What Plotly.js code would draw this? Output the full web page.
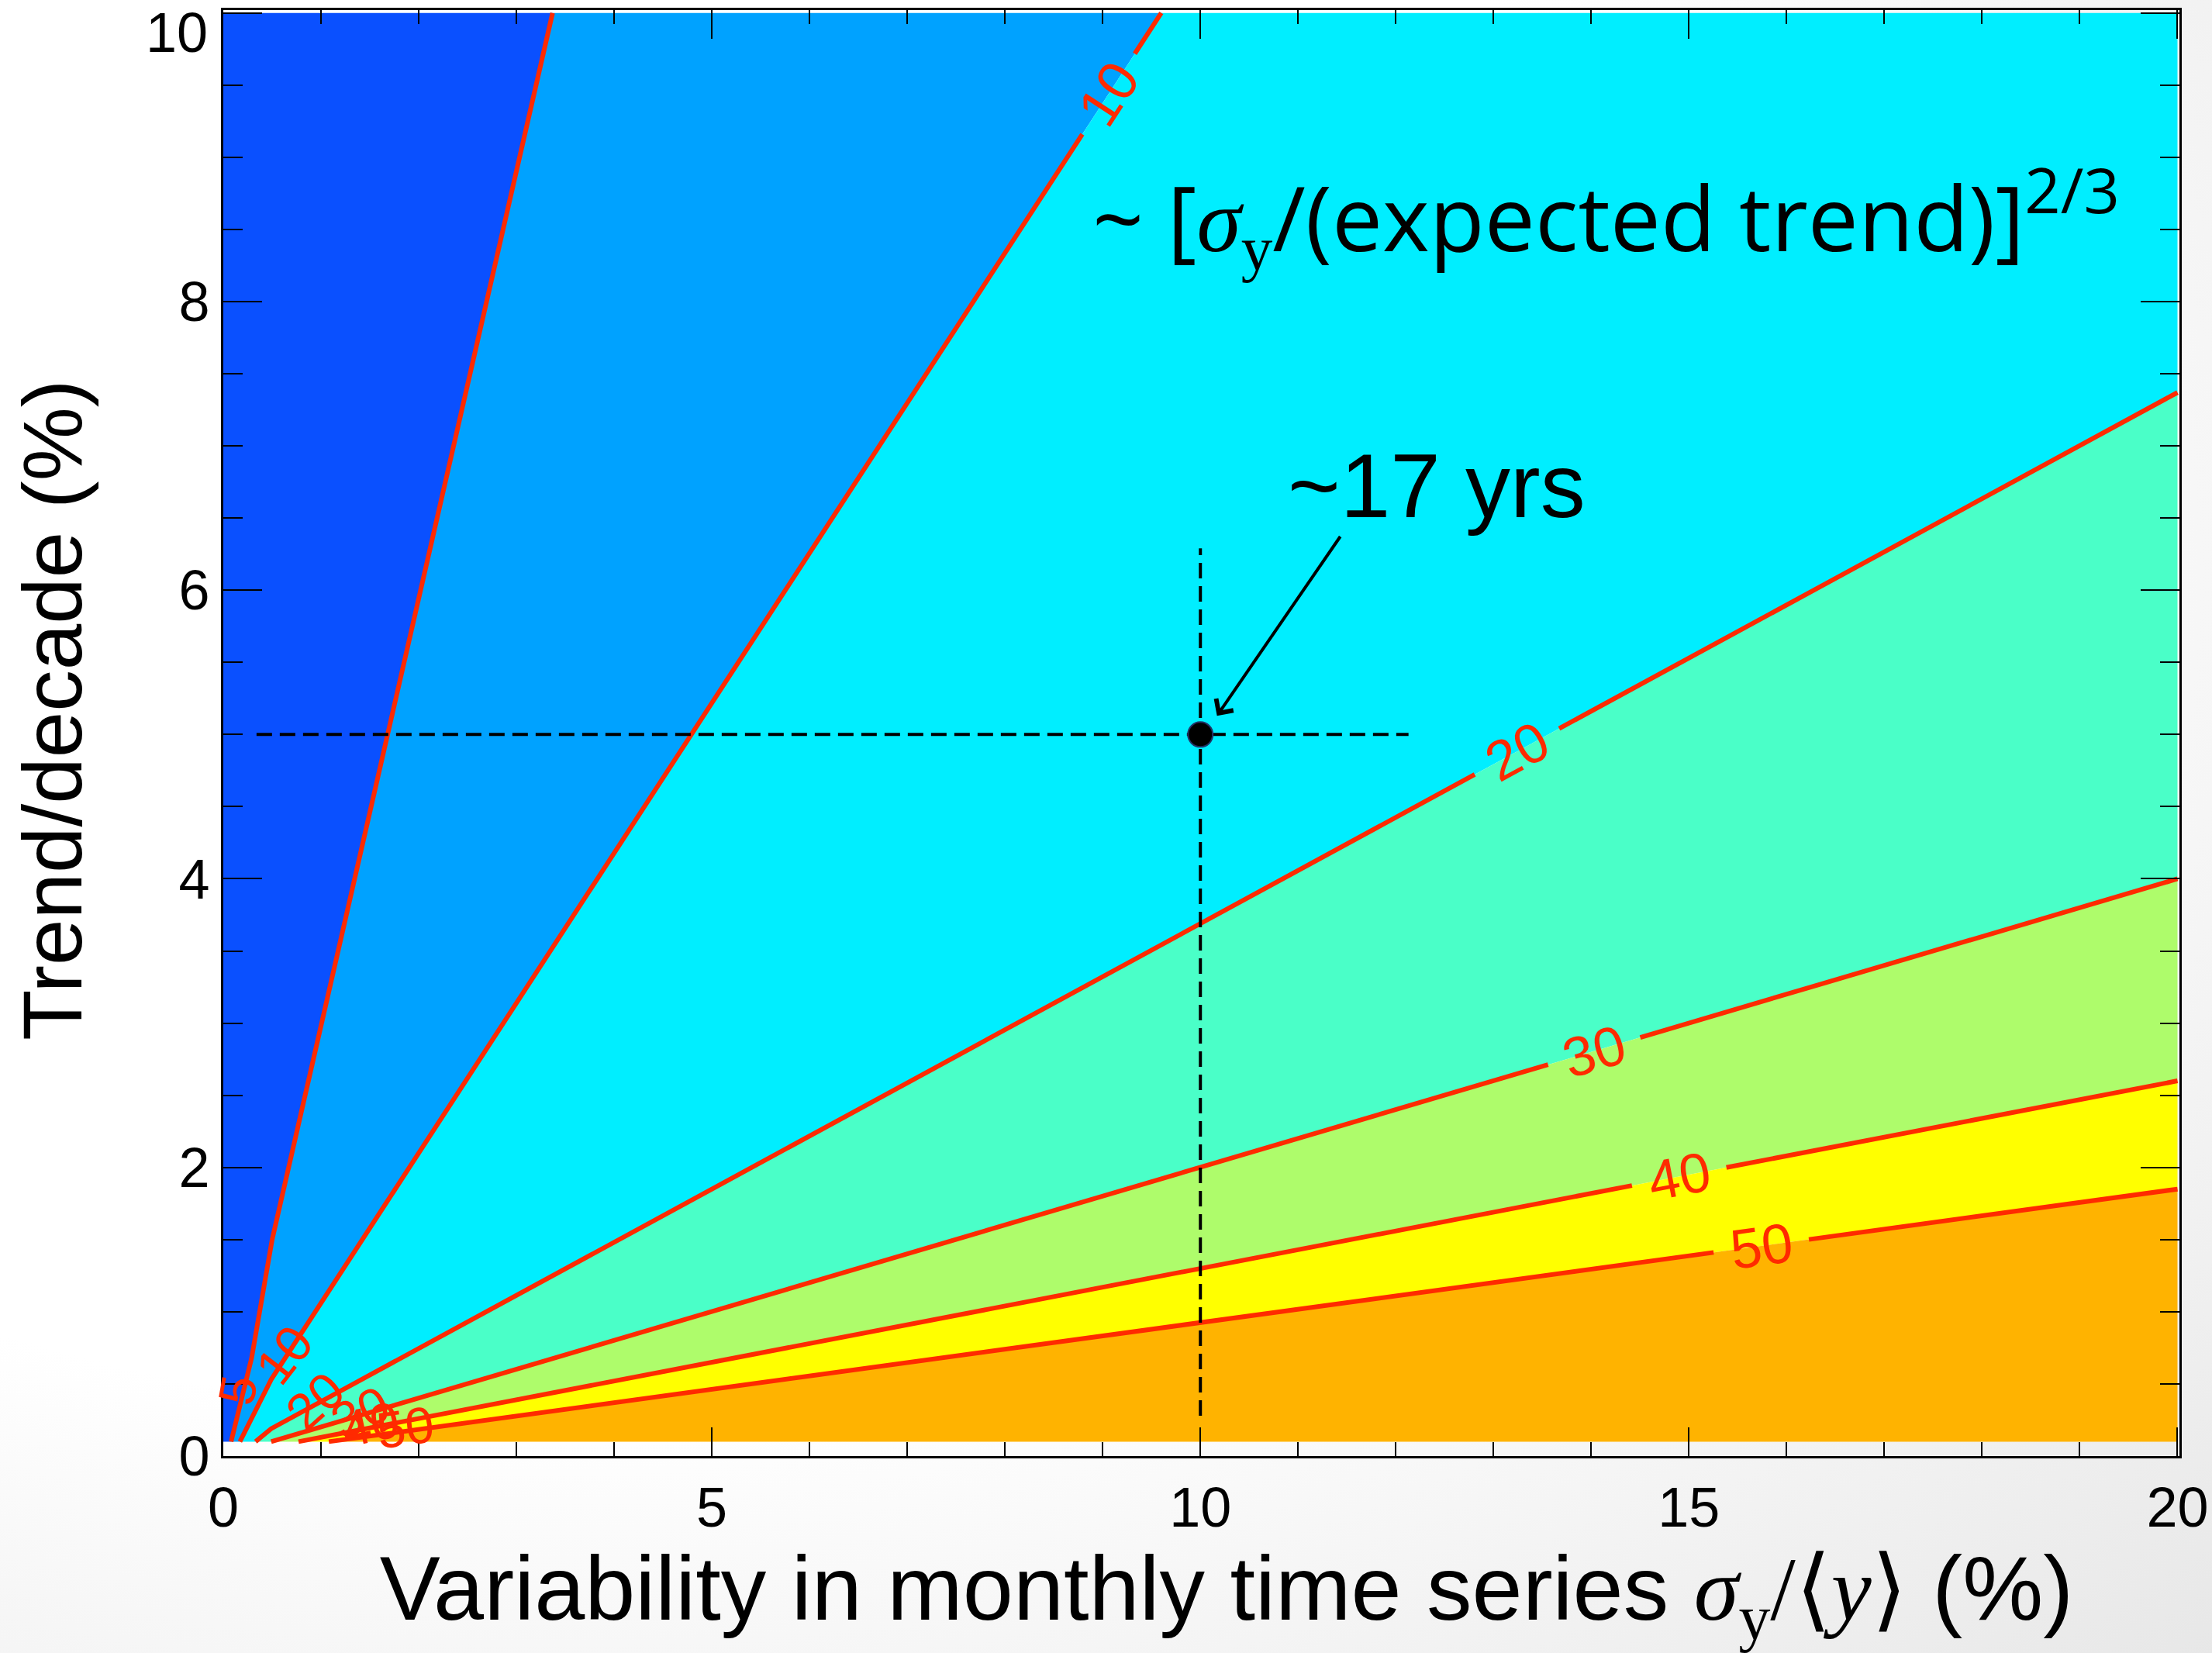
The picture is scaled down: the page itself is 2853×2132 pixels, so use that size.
<!DOCTYPE html>
<html><head><meta charset="utf-8">
<script src="https://cdn.plot.ly/plotly-3.0.1.min.js"></script>
<style>
html,body{margin:0;padding:0;width:2853px;height:2132px;overflow:hidden;
background: radial-gradient(ellipse at 25% 35%, #ffffff 55%, #e2e2e2 110%);}
#chart{width:2853px;height:2132px;}
</style></head><body><div id="chart"></div>
<script>
// contour levels (years needed to detect trend)
const levels = [5, 10, 20, 30, 40, 50];
// contour line vertices (x = variability %, y = trend %/decade)
const c5x  = [0.08, 0.29, 0.50, 3.37];
const c5y  = [0.10, 0.68, 1.50, 10.0];
const c10x = [0.17, 0.49, 9.60];
const c10y = [0.10, 0.53, 10.0];
const c20x = [0.33, 0.49, 20.0];
const c20y = [0.10, 0.19, 7.37];
const c30x = [0.49, 20.0];
const c30y = [0.10, 4.00];
const c40x = [0.77, 20.0];
const c40y = [0.10, 2.60];
const c50x = [1.08, 20.0];
const c50y = [0.10, 1.85];
const bandColors = ['#0a50ff', '#00a2ff', '#00eeff', '#4affc8', '#aefc6b', '#ffff00', '#ffb300'];
// main contour labels: position along x on each line
const mainLabelLevel = [10, 20, 30, 40, 50];
const mainLabelX = [9.06, 13.24, 14.03, 14.90, 15.74];
// crowded labels near the origin
const smallLabelText = ['5', '10', '20', '30', '40', '50'];
const smallLabelX = [0.15, 0.62, 0.94, 1.40, 1.50, 1.86];
const smallLabelY = [0.46, 0.70, 0.38, 0.30, 0.22, 0.20];
const smallLabelAngle = [-80, -52, -42, -25, -12, -8];
// example point
const ptX = [10], ptY = [5];
const hLineX = [0.34, 12.13], hLineY = [5, 5];
const vLineX = [10, 10], vLineY = [0.28, 6.29];
const xTickVals = [0, 5, 10, 15, 20];
const yTickVals = [0, 2, 4, 6, 8, 10];
// top label "10" is drawn nudged down inside the figure, as in the original
const yTickText = ['0', '2', '4', '6', '8', ''];
const yTopLabel = '10';

const X0 = 0, X1 = 20, Y1 = 10, YB = 0.1;
const PXX = 2523 / 20.02, PXY = 1865 / 10.02;
const lines = [[c5x, c5y], [c10x, c10y], [c20x, c20y], [c30x, c30y], [c40x, c40y], [c50x, c50y]];
const leftEdge = [[X0, X0], [YB, Y1]];
const bottomEdge = [[X0, X1], [YB, YB]];
const bounds = [leftEdge].concat(lines).concat([bottomEdge]);
function perim(x, y) {
  if (x <= X0 + 1e-6) return y;
  if (y >= Y1 - 1e-6) return 10 + x;
  if (x >= X1 - 1e-6) return 30 + (Y1 - y);
  return 40 + (X1 - x);
}
const corners = [{t: 10, x: X0, y: Y1}, {t: 30, x: X1, y: Y1}];
const traces = [];
for (let b = 0; b < bandColors.length; b++) {
  const A = bounds[b], B = bounds[b + 1];
  const px = [], py = [];
  for (let i = 0; i < A[0].length; i++) { px.push(A[0][i]); py.push(A[1][i]); }
  const tA = perim(A[0][A[0].length - 1], A[1][A[1].length - 1]);
  const tB = perim(B[0][B[0].length - 1], B[1][B[1].length - 1]);
  corners.forEach(c => { if (c.t > tA + 1e-6 && c.t < tB - 1e-6) { px.push(c.x); py.push(c.y); } });
  for (let i = B[0].length - 1; i >= 0; i--) { px.push(B[0][i]); py.push(B[1][i]); }
  traces.push({type: 'scatter', mode: 'lines', x: px, y: py, fill: 'toself', fillcolor: bandColors[b],
    line: {width: 0, color: bandColors[b]}, hoverinfo: 'skip', showlegend: false});
}
// contour lines with gaps for labels
const annotations = [];
const halfGap = 62;
lines.forEach((ln, k) => {
  const xs = ln[0], ys = ln[1];
  const li = mainLabelLevel.indexOf(levels[k]);
  let ox = xs.slice(), oy = ys.slice();
  if (li >= 0) {
    const lx = mainLabelX[li];
    let s = 0;
    for (let i = 0; i < xs.length - 1; i++) if (lx >= xs[i] && lx <= xs[i + 1]) s = i;
    const f = (lx - xs[s]) / (xs[s + 1] - xs[s]);
    const ly = ys[s] + f * (ys[s + 1] - ys[s]);
    const dpx = (xs[s + 1] - xs[s]) * PXX, dpy = (ys[s + 1] - ys[s]) * PXY;
    const L = Math.hypot(dpx, dpy);
    const ux = dpx / L, uy = dpy / L;
    const gx = halfGap * ux / PXX, gy = halfGap * uy / PXY;
    ox = []; oy = [];
    for (let i = 0; i <= s; i++) { ox.push(xs[i]); oy.push(ys[i]); }
    ox.push(lx - gx); oy.push(ly - gy);
    ox.push(null); oy.push(null);
    ox.push(lx + gx); oy.push(ly + gy);
    for (let i = s + 1; i < xs.length; i++) { ox.push(xs[i]); oy.push(ys[i]); }
    const ang = -Math.atan2(dpy, dpx) * 180 / Math.PI;
    annotations.push({x: lx, y: ly, xref: 'x', yref: 'y', text: String(levels[k]), showarrow: false,
      textangle: ang, font: {family: 'Liberation Sans, Arial', size: 72, color: '#ff2a00'},
      xanchor: 'center', yanchor: 'middle'});
  }
  traces.push({type: 'scatter', mode: 'lines', x: ox, y: oy, connectgaps: false,
    line: {color: '#ff2a00', width: 6}, hoverinfo: 'skip', showlegend: false});
});
smallLabelText.forEach((t, i) => {
  annotations.push({x: smallLabelX[i], y: smallLabelY[i], xref: 'x', yref: 'y', text: t, showarrow: false,
    textangle: smallLabelAngle[i], font: {family: 'Liberation Sans, Arial', size: 66, color: '#ff2a00'}});
});
traces.push({type: 'scatter', mode: 'lines', x: hLineX, y: hLineY, line: {color: '#000', width: 4, dash: '20px,10px'}, hoverinfo: 'skip', showlegend: false});
traces.push({type: 'scatter', mode: 'lines', x: vLineX, y: vLineY, line: {color: '#000', width: 4, dash: '20px,10px'}, hoverinfo: 'skip', showlegend: false});
traces.push({type: 'scatter', mode: 'markers', x: ptX, y: ptY, marker: {color: '#000', size: 32, line: {color: '#223366', width: 2}}, hoverinfo: 'skip', showlegend: false});

annotations.push({x: 12.42, y: 6.72, xref: 'x', yref: 'y', text: '~17 yrs', showarrow: false,
  font: {family: 'Liberation Sans, Arial', size: 116, color: '#000'}});
annotations.push({x: 10.17, y: 5.13, ax: 11.44, ay: 6.38, xref: 'x', yref: 'y', axref: 'x', ayref: 'y',
  text: '', showarrow: true, arrowhead: 4, arrowsize: 1.3, arrowwidth: 4, arrowcolor: '#000'});
annotations.push({x: 14.15, y: 8.6, xref: 'x', yref: 'y', showarrow: false,
  text: '~ [<span style="font-family:Liberation Serif"><i>σ</i><sub>y</sub></span>/(expected trend)]<sup>2/3</sup>',
  font: {family: 'Open Sans', size: 116, color: '#000'}});
annotations.push({x: -0.0075, y: 1.0064, xref: 'paper', yref: 'paper', xanchor: 'right', yanchor: 'top', borderpad: 0,
  text: yTopLabel, showarrow: false, font: {family: 'Liberation Sans, Arial', size: 72, color: '#000'}});

const layout = {
  width: 2853, height: 2132,
  margin: {l: 288, r: 42, t: 13, b: 254},
  paper_bgcolor: 'rgba(0,0,0,0)', plot_bgcolor: 'rgba(0,0,0,0)',
  showlegend: false,
  xaxis: {range: [0, 20.02], tickvals: xTickVals, ticks: 'inside', ticklen: 37, tickwidth: 2, tickcolor: '#000',
    minor: {ticks: 'inside', dtick: 1, tick0: 0, ticklen: 18, tickwidth: 2, tickcolor: '#000'},
    showline: true, linecolor: '#000', linewidth: 3, mirror: 'ticks', showgrid: false, zeroline: false,
    ticklabelstandoff: 2, ticklabeloverflow: 'allow',
    tickfont: {family: 'Liberation Sans, Arial', size: 72, color: '#000'},
    title: {text: '&nbsp;&nbsp;Variability in monthly time series <span style="font-family:Liberation Serif"><i>σ</i><sub>y</sub>/⟨<i>y</i>⟩</span> (%)',
      font: {family: 'Liberation Sans, Arial', size: 117, color: '#000'}, standoff: 40}},
  yaxis: {range: [0, 10.02], tickvals: yTickVals, ticktext: yTickText, ticks: 'inside', ticklen: 50, tickwidth: 2, tickcolor: '#000',
    minor: {ticks: 'inside', dtick: 0.5, tick0: 0, ticklen: 25, tickwidth: 2, tickcolor: '#000'},
    showline: true, linecolor: '#000', linewidth: 3, mirror: 'ticks', showgrid: false, zeroline: false,
    ticklabelstandoff: 0, ticklabeloverflow: 'allow',
    tickfont: {family: 'Liberation Sans, Arial', size: 72, color: '#000'},
    title: {text: '&nbsp;&nbsp;Trend/decade (%)', font: {family: 'Liberation Sans, Arial', size: 107, color: '#000'}, standoff: 90}},
  annotations: annotations
};
Plotly.newPlot('chart', traces, layout, {staticPlot: true, displayModeBar: false});
</script></body></html>
